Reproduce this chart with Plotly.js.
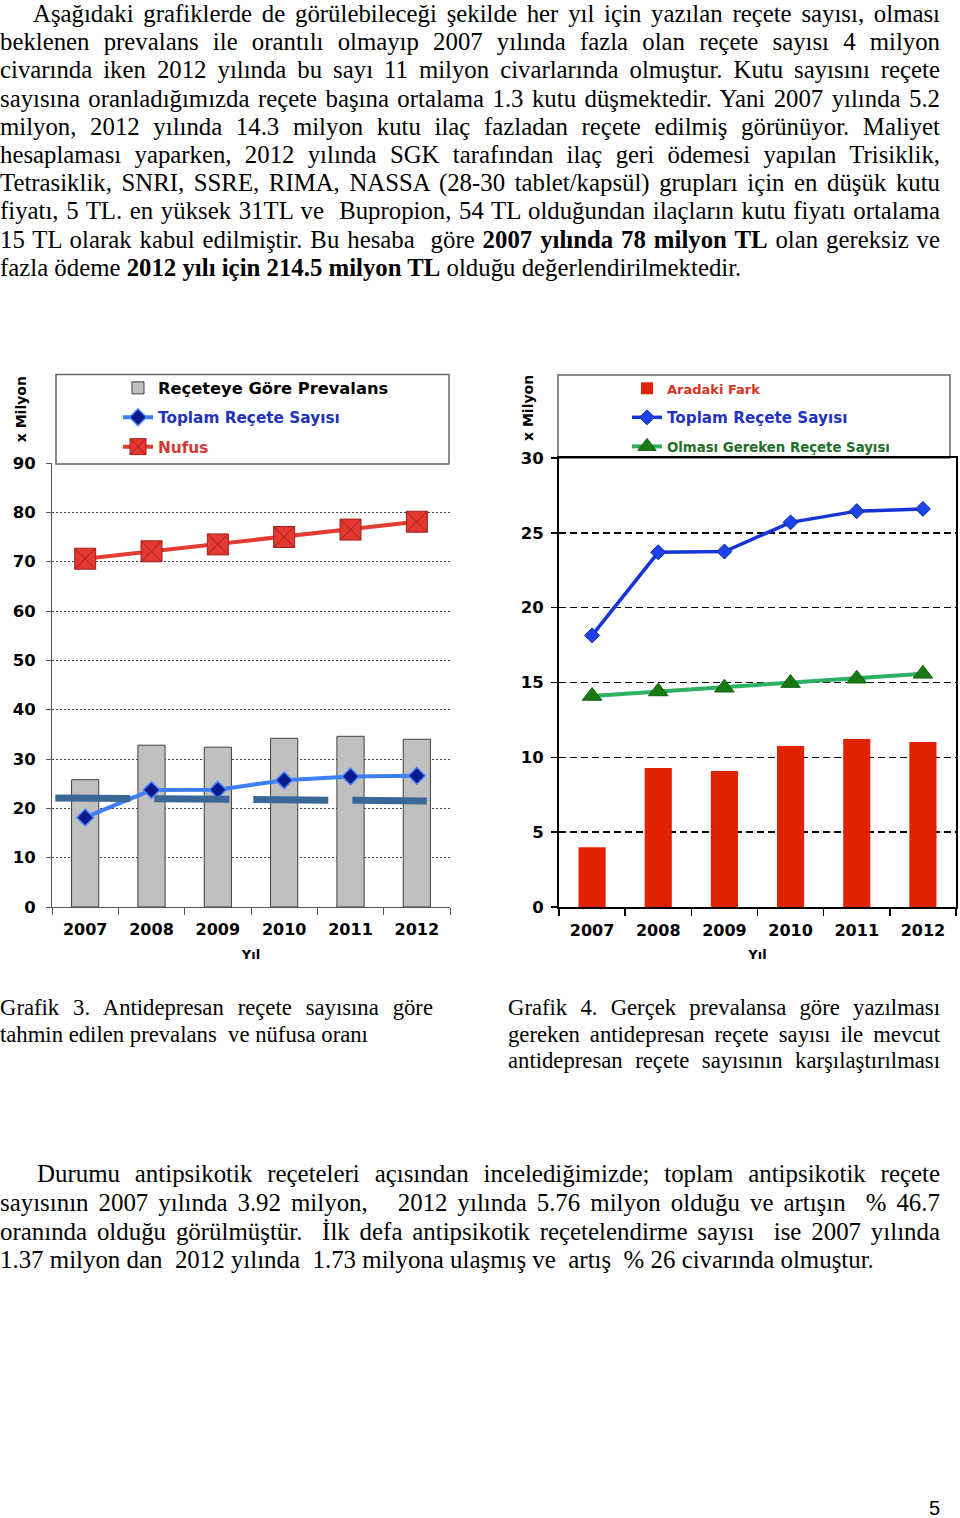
<!DOCTYPE html>
<html><head><meta charset="utf-8">
<script src="https://cdn.plot.ly/plotly-3.0.1.min.js"></script>
<style>
html,body{margin:0;padding:0;background:#fff;}
body{width:960px;height:1518px;position:relative;overflow:hidden;font-family:"Liberation Serif","Times New Roman",serif;color:#000;}
.blk{position:absolute;}
.blk div{white-space:nowrap;text-align:left;}
#c1,#c2{position:absolute;top:360px;width:480px;height:610px;}
#c1{left:0;} #c2{left:480px;}
#pn{position:absolute;left:929px;top:1497px;font-family:"Liberation Sans",Arial,sans-serif;font-size:20px;}
</style></head>
<body>
<div class="blk" style="left:0;top:0;width:940px;font-size:24.8px;line-height:28.2px;">
<div style="text-indent:33px">Aşağıdaki grafiklerde de görülebileceği şekilde her yıl için yazılan reçete sayısı, olması</div>
<div>beklenen prevalans ile orantılı olmayıp 2007 yılında fazla olan reçete sayısı 4 milyon</div>
<div>civarında iken 2012 yılında bu sayı 11 milyon civarlarında olmuştur. Kutu sayısını reçete</div>
<div>sayısına oranladığımızda reçete başına ortalama 1.3 kutu düşmektedir. Yani 2007 yılında 5.2</div>
<div>milyon, 2012 yılında 14.3 milyon kutu ilaç fazladan reçete edilmiş görünüyor. Maliyet</div>
<div>hesaplaması yaparken, 2012 yılında SGK tarafından ilaç geri ödemesi yapılan Trisiklik,</div>
<div>Tetrasiklik, SNRI, SSRE, RIMA, NASSA (28-30 tablet/kapsül) grupları için en düşük kutu</div>
<div>fiyatı, 5 TL. en yüksek 31TL ve&nbsp; Bupropion, 54 TL olduğundan ilaçların kutu fiyatı ortalama</div>
<div>15 TL olarak kabul edilmiştir. Bu hesaba&nbsp; göre <b>2007 yılında 78 milyon TL</b> olan gereksiz ve</div>
<div class="last">fazla ödeme <b>2012 yılı için 214.5 milyon TL</b> olduğu değerlendirilmektedir.</div>
</div>

<div id="c1"></div>
<div id="c2"></div>

<div class="blk" style="left:0;top:995px;width:433px;font-size:22.7px;line-height:26.5px;">
<div>Grafik 3. Antidepresan reçete sayısına göre</div>
<div class="last">tahmin edilen prevalans&nbsp; ve nüfusa oranı</div>
</div>
<div class="blk" style="left:508px;top:995px;width:432px;font-size:22.7px;line-height:26.5px;">
<div>Grafik 4. Gerçek prevalansa göre yazılması</div>
<div>gereken antidepresan reçete sayısı ile mevcut</div>
<div>antidepresan reçete sayısının karşılaştırılması</div>
</div>

<div class="blk" style="left:0;top:1160.3px;width:940px;font-size:24.9px;line-height:28.7px;">
<div style="text-indent:37px">Durumu antipsikotik reçeteleri açısından incelediğimizde; toplam antipsikotik reçete</div>
<div>sayısının 2007 yılında 3.92 milyon,&nbsp;&nbsp; 2012 yılında 5.76 milyon olduğu ve artışın&nbsp; % 46.7</div>
<div>oranında olduğu görülmüştür.&nbsp; İlk defa antipsikotik reçetelendirme sayısı&nbsp; ise 2007 yılında</div>
<div class="last">1.37 milyon dan&nbsp; 2012 yılında&nbsp; 1.73 milyona ulaşmış ve&nbsp; artış&nbsp; % 26 civarında olmuştur.</div>
</div>
<div id="pn">5</div>

<script>
// ---- data ----
const years = ['2007', '2008', '2009', '2010', '2011', '2012'];
const receteyeGorePrevalans = [25.8, 32.8, 32.4, 34.2, 34.6, 34.0];
const toplamReceteSayisi = [18.15, 23.7, 23.75, 25.7, 26.45, 26.6];
const nufus = [70.6, 72.1, 73.5, 75.0, 76.5, 78.1];
const ortalamaCizgiX = [2006.55, 2012.15];
const ortalamaCizgiY = [22.1, 21.5];
const aradakiFark = [4.0, 9.28, 9.08, 10.75, 11.22, 11.02];
const olmasiGerekenReceteSayisi = [14.1, 14.4, 14.65, 14.96, 15.25, 15.58];

// ---- justify each text line to its block width ----
function justifyLines() {
  document.querySelectorAll('.blk div').forEach(d => {
    if (d.classList.contains('last')) return;
    const span = document.createElement('span');
    while (d.firstChild) span.appendChild(d.firstChild);
    d.appendChild(span);
    const indent = parseFloat(d.style.textIndent) || 0;
    const avail = d.clientWidth - indent;
    const w = span.getBoundingClientRect().width;
    const n = (span.textContent.match(/[ \u00a0]/g) || []).length;
    if (n > 0) span.style.wordSpacing = ((avail - w) / n) + 'px';
  });
}
if (document.fonts && document.fonts.ready) document.fonts.ready.then(justifyLines); else justifyLines();

const FONT = 'DejaVu Sans';

function mk(px0, px1, py0, py1) {
  return {
    x: p => (p - px0) / (px1 - px0),
    y: p => (py1 - p) / (py1 - py0)
  };
}

// ---------- Chart 1 ----------
const P1 = mk(52, 450, 461, 907);
const traces1 = [
  {type: 'bar', x: years, y: receteyeGorePrevalans, name: '<span style="color:#000;font-size:16.3px">Reçeteye Göre Prevalans</span>',
   marker: {color: '#c0c0c0', line: {color: '#404040', width: 1}}, legendgroup: 'a'},
  {type: 'scatter', mode: 'lines', x: ortalamaCizgiX, y: ortalamaCizgiY, xaxis: 'x2', showlegend: false,
   line: {color: '#3b6796', width: 7, dash: '75px,24px'}, hoverinfo: 'skip'},
  {type: 'scatter', mode: 'lines+markers', x: years, y: toplamReceteSayisi, name: '<span style="color:#2233bb">Toplam Reçete Sayısı</span>',
   line: {color: '#3d7ff2', width: 4}, marker: {symbol: 'diamond', size: 13, color: '#0b1a8c', line: {color: '#4d88ff', width: 1.5}}, legendgroup: 'b'},
  {type: 'scatter', mode: 'lines+markers', x: years, y: nufus, name: '<span style="color:#d23a36">Nufus</span>',
   line: {color: '#e23c34', width: 4}, marker: {symbol: 'square-x', size: 21, color: '#e2382f', line: {color: '#a02020', width: 1}}, legendgroup: 'c'}
];
const layout1 = {
  width: 480, height: 610,
  margin: {l: 52, r: 30, t: 101, b: 63, pad: 0},
  paper_bgcolor: 'rgba(0,0,0,0)', plot_bgcolor: 'rgba(0,0,0,0)',
  font: {family: FONT, size: 16, color: '#000'},
  bargap: 0.59,
  showlegend: true,
  xaxis: {type: 'category', tickson: 'boundaries', ticks: 'outside', ticklen: 7, tickcolor: '#555', tickwidth: 1,
    showline: true, linecolor: '#555', linewidth: 1, showgrid: false, fixedrange: true, ticklabelstandoff: 8,
    tickfont: {family: FONT, size: 16, weight: 'bold', color: '#000'},
    title: {text: 'Yıl', font: {family: FONT, size: 13, weight: 'bold', color: '#000'}, standoff: 11}},
  xaxis2: {overlaying: 'x', range: [2006.5, 2012.5], visible: false, fixedrange: true},
  yaxis: {range: [0, 90], dtick: 10, tick0: 0, showgrid: true, gridcolor: '#444', griddash: '2px,2px', gridwidth: 1,
    ticks: 'outside', ticklen: 5, tickcolor: '#555', showline: true, linecolor: '#555', linewidth: 1, zeroline: false,
    tickfont: {family: FONT, size: 16.5, weight: 'bold', color: '#000'}, ticklabelstandoff: 7, fixedrange: true},
  legend: {x: P1.x(118), y: P1.y(369), xanchor: 'left', yanchor: 'top', bgcolor: 'rgba(0,0,0,0)', borderwidth: 0,
    traceorder: 'grouped', tracegroupgap: 6.5, font: {family: FONT, size: 15.3, weight: 'bold'}},
  shapes: [{type: 'rect', xref: 'paper', yref: 'paper', x0: P1.x(56), x1: P1.x(449), y0: P1.y(462), y1: P1.y(372),
    line: {color: '#666', width: 1.5}, fillcolor: '#fff', layer: 'below'}],
  annotations: [{xref: 'paper', yref: 'paper', x: P1.x(21), y: P1.y(407), text: 'x Milyon', textangle: -90, showarrow: false,
    font: {family: FONT, size: 14, weight: 'bold', color: '#000'}, xanchor: 'center', yanchor: 'middle'}]
};

// ---------- Chart 2 ----------
const P2 = mk(559 - 480, 956 - 480, 458, 907);
const traces2 = [
  {type: 'bar', x: years, y: aradakiFark, name: '<span style="color:#d83222;font-size:13px">Aradaki Fark</span>',
   marker: {color: '#e02200', line: {width: 0}}, legendgroup: 'a'},
  {type: 'scatter', mode: 'lines+markers', x: years, y: toplamReceteSayisi, name: '<span style="color:#1f33c0;font-size:15.2px">Toplam Reçete Sayısı</span>',
   line: {color: '#1535d8', width: 3.5}, marker: {symbol: 'diamond', size: 11.5, color: '#1c44ec', line: {color: '#0b239a', width: 1}}, legendgroup: 'b'},
  {type: 'scatter', mode: 'lines+markers', x: years, y: olmasiGerekenReceteSayisi, name: '<span style="color:#1f6e2a;font-size:13.3px">Olması Gereken Reçete Sayısı</span>',
   line: {color: '#2db060', width: 4}, marker: {symbol: 'triangle-up', size: 17, color: '#1a7a12', line: {color: '#136010', width: 1}}, legendgroup: 'c'}
];
const layout2 = {
  width: 480, height: 610,
  margin: {l: 79, r: 4, t: 98, b: 63, pad: 0},
  paper_bgcolor: 'rgba(0,0,0,0)', plot_bgcolor: 'rgba(0,0,0,0)',
  font: {family: FONT, size: 16, color: '#000'},
  bargap: 0.59,
  showlegend: true,
  xaxis: {type: 'category', tickson: 'boundaries', ticks: 'outside', ticklen: 7, tickcolor: '#000', tickwidth: 1.5,
    showline: true, linecolor: '#000', linewidth: 2, mirror: true, showgrid: false, fixedrange: true, ticklabelstandoff: 8,
    tickfont: {family: FONT, size: 16, weight: 'bold', color: '#000'},
    title: {text: 'Yıl', font: {family: FONT, size: 13, weight: 'bold', color: '#000'}, standoff: 11}},
  yaxis: {range: [0, 30], dtick: 5, tick0: 0, showgrid: true, gridcolor: '#000', griddash: '7px,4px', gridwidth: 1.5,
    ticks: 'outside', ticklen: 6, tickcolor: '#000', tickwidth: 1.5, showline: true, linecolor: '#000', linewidth: 2, mirror: true, zeroline: false,
    tickfont: {family: FONT, size: 16.5, weight: 'bold', color: '#000'}, ticklabelstandoff: 4, fixedrange: true},
  legend: {x: P2.x(627 - 480), y: P2.y(373), xanchor: 'left', yanchor: 'top', bgcolor: 'rgba(0,0,0,0)', borderwidth: 0,
    traceorder: 'grouped', tracegroupgap: 8.5, font: {family: FONT, size: 13.5, weight: 'bold'}},
  shapes: [{type: 'rect', xref: 'paper', yref: 'paper', x0: P2.x(558 - 480), x1: P2.x(950 - 480), y0: P2.y(458), y1: P2.y(375),
    line: {color: '#666', width: 1.5}, fillcolor: '#fff', layer: 'below'}],
  annotations: [{xref: 'paper', yref: 'paper', x: P2.x(528 - 480), y: P2.y(408), text: 'x Milyon', textangle: -90, showarrow: false,
    font: {family: FONT, size: 14, weight: 'bold', color: '#000'}, xanchor: 'center', yanchor: 'middle'}]
};

const cfg = {staticPlot: true, displayModeBar: false};
Plotly.newPlot('c1', traces1, layout1, cfg);
Plotly.newPlot('c2', traces2, layout2, cfg);
</script>
</body></html>
